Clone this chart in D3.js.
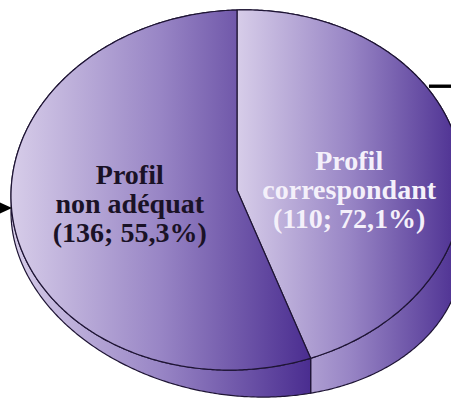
<!DOCTYPE html>
<html>
<head>
<meta charset="utf-8">
<script src="https://cdn.jsdelivr.net/npm/d3@7"></script>
<style>
  body { margin: 0; background: #fff; }
  svg { display: block; }
</style>
</head>
<body>
<svg id="Pie"></svg>
<script>
'use strict';

// data
const categories = ["Profil correspondant", "Profil non adéquat"];
const counts = [110, 136];
const percentLabels = ["72,1%", "55,3%"];
const textColors = ["#f4f0fa", "#1a1226"];

function getChartConfig() {
    let width = 451, height = 400;
    let container = d3.select("#Pie")
        .attr("width", width)
        .attr("height", height);
    // 3d look of the disc: top face ellipse + variable side depth
    let geo = { cx: 237, cy: 190, a: 226, b: 180, k: 6, h0: 41, h1: 25, h2: -15 };
    return { width, height, container, geo };
}

function makeProjection(geo) {
    let top = (t, r = 1) => {
        let s = Math.sin(t), c = Math.cos(t);
        return [geo.cx + r * geo.a * s, geo.cy - r * geo.k * s - r * geo.b * c];
    };
    let bottom = t => {
        let p = top(t);
        let depth = geo.h0 + geo.h1 * Math.sin(t) - geo.h2 * Math.cos(t);
        return [p[0], p[1] + depth];
    };
    return { top, bottom };
}

function sample(a0, a1) {
    let n = Math.max(2, Math.ceil((a1 - a0) / 0.01));
    return d3.range(n + 1).map(i => a0 + (a1 - a0) * i / n);
}

function addGradient(defs, id, x1, x2) {
    let g = defs.append("linearGradient")
        .attr("id", id)
        .attr("gradientUnits", "userSpaceOnUse")
        .attr("x1", x1).attr("x2", x2)
        .attr("y1", 0).attr("y2", 0);
    g.append("stop").attr("offset", "0%").attr("stop-color", "#d7cde9");
    g.append("stop").attr("offset", "50%").attr("stop-color", "#9885c5");
    g.append("stop").attr("offset", "100%").attr("stop-color", "#4a2d90");
}

function drawPie(config, arcs, proj) {
    let { container, geo } = config;
    let defs = container.append("defs");
    let line = d3.line();
    let stroke = "#1e1434";

    // side walls first
    arcs.forEach((d, i) => {
        let angles = sample(d.startAngle, d.endAngle);
        let topPts = angles.map(t => proj.top(t));
        let botPts = angles.slice().reverse().map(t => proj.bottom(t));
        let xs = topPts.map(p => p[0]);
        addGradient(defs, "side" + i, d3.min(xs), d3.max(xs));
        container.append("path")
            .attr("d", line(topPts.concat(botPts)) + "Z")
            .attr("fill", "url(#side" + i + ")")
            .attr("stroke", stroke)
            .attr("stroke-width", 1.2)
            .attr("stroke-linejoin", "round");
    });

    // top faces
    arcs.forEach((d, i) => {
        let pts = sample(d.startAngle, d.endAngle).map(t => proj.top(t));
        let xs = pts.map(p => p[0]).concat([geo.cx]);
        addGradient(defs, "top" + i, d3.min(xs), d3.max(xs));
        container.append("path")
            .attr("d", line([[geo.cx, geo.cy]].concat(pts)) + "Z")
            .attr("fill", "url(#top" + i + ")")
            .attr("stroke", stroke)
            .attr("stroke-width", 1.2)
            .attr("stroke-linejoin", "round");
    });
}

function drawLabels(config, arcs, proj) {
    let { container } = config;
    let nudge = [[3, 26], [2, 6]];
    let lineGap = 29;

    arcs.forEach((d, i) => {
        let mid = (d.startAngle + d.endAngle) / 2;
        let p = proj.top(mid, 0.49);
        let x = p[0] + nudge[i][0], y = p[1] + nudge[i][1];
        let name = d.data.name;
        let cut = name.indexOf(" ");
        let lines = [name.slice(0, cut), name.slice(cut + 1),
            "(" + d.data.count + "; " + d.data.pct + ")"];

        container.append("text")
            .attr("text-anchor", "middle")
            .style("font-family", "'Liberation Serif', 'Times New Roman', serif")
            .style("font-weight", "bold")
            .style("font-size", "28px")
            .attr("fill", d.data.color)
            .selectAll("tspan")
            .data(lines)
            .enter()
            .append("tspan")
            .attr("x", x)
            .attr("y", (l, j) => y + (j - 1) * lineGap)
            .text(l => l);
    });
}

function drawCallouts(config, proj) {
    let { container, width } = config;
    // arrow pointing at the left rim
    let a = proj.top(3 * Math.PI / 2), b = proj.bottom(3 * Math.PI / 2);
    let tip = [a[0] + 1, (a[1] + b[1]) / 2 + 4];
    container.append("line")
        .attr("x1", -40).attr("x2", tip[0] - 8)
        .attr("y1", tip[1]).attr("y2", tip[1])
        .attr("stroke", "#000").attr("stroke-width", 1.5);
    container.append("path")
        .attr("d", d3.line()([[tip[0] - 13, tip[1] - 6], tip, [tip[0] - 13, tip[1] + 6]]) + "Z")
        .attr("fill", "#000");

    // leader line at the upper right
    let q = proj.top(0.99);
    container.append("line")
        .attr("x1", q[0] + 3).attr("x2", width + 5)
        .attr("y1", q[1]).attr("y2", q[1])
        .attr("stroke", "#000").attr("stroke-width", 3.4);
}

function drawChart() {
    let config = getChartConfig();
    let proj = makeProjection(config.geo);
    let rows = categories.map((name, i) => ({
        name, count: counts[i], pct: percentLabels[i], color: textColors[i]
    }));
    let pie = d3.pie()
        .sort(null)
        .value(d => d.count);
    let arcs = pie(rows);

    drawPie(config, arcs, proj);
    drawLabels(config, arcs, proj);
    drawCallouts(config, proj);
}

drawChart();
</script>
</body>
</html>
